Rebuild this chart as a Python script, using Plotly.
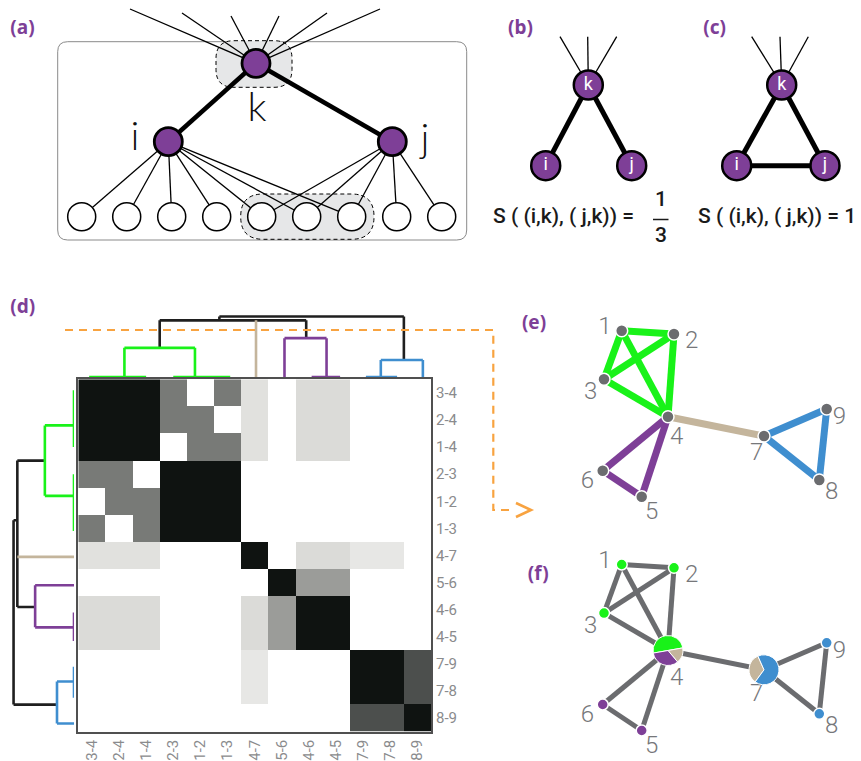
import plotly.graph_objects as go

W, H = 861, 761
FONT = "Roboto"
LABEL_FONT = "Noto Sans"

PURPLE = "#7e3f97"
GREEN = "#19f219"
BLUE = "#3f8ecf"
TAN = "#c4b59c"
DARK = "#1f1f1f"
ORANGE = "#f8a340"
NODE_GRAY = "#6b6c6f"
LABEL_GRAY = "#76777a"
TICK_GRAY = "#8a8b8d"
SHADE = "#e6e7e8"
COLORS = {"green": GREEN, "tan": TAN, "purple": PURPLE, "blue": BLUE, "black": DARK}

# ---------------------------------------------------------------- (d)
# link similarity matrix; rows and columns follow the dendrogram leaf order
link_labels = ["3-4", "2-4", "1-4", "2-3", "1-2", "1-3", "4-7",
               "5-6", "4-6", "4-5", "7-9", "7-8", "8-9"]
link_similarity = [
    [1,   1,   1,   4/7, 0,   4/7, 1/7, 0,   1/6, 1/6, 0,   0,   0],
    [1,   1,   1,   4/7, 4/7, 0,   1/7, 0,   1/6, 1/6, 0,   0,   0],
    [1,   1,   1,   0,   4/7, 4/7, 1/7, 0,   1/6, 1/6, 0,   0,   0],
    [4/7, 4/7, 0,   1,   1,   1,   0,   0,   0,   0,   0,   0,   0],
    [0,   4/7, 4/7, 1,   1,   1,   0,   0,   0,   0,   0,   0,   0],
    [4/7, 0,   4/7, 1,   1,   1,   0,   0,   0,   0,   0,   0,   0],
    [1/7, 1/7, 1/7, 0,   0,   0,   1,   0,   1/6, 1/6, 1/9, 1/9, 0],
    [0,   0,   0,   0,   0,   0,   0,   1,   3/7, 3/7, 0,   0,   0],
    [1/6, 1/6, 1/6, 0,   0,   0,   1/6, 3/7, 1,   1,   0,   0,   0],
    [1/6, 1/6, 1/6, 0,   0,   0,   1/6, 3/7, 1,   1,   0,   0,   0],
    [0,   0,   0,   0,   0,   0,   1/9, 0,   0,   0,   1,   1,   3/4],
    [0,   0,   0,   0,   0,   0,   1/9, 0,   0,   0,   1,   1,   3/4],
    [0,   0,   0,   0,   0,   0,   0,   0,   0,   0,   3/4, 3/4, 1],
]

# dendrogram: link groups that are identical (joined at distance 0)
zero_names = ["A", "B", "P2", "BL2"]
zero_span = [(-0.1, 2.0), (3.0, 5.1), (8.1, 9.15), (10.1, 11.25)]
zero_pos = [1.2, 3.8, 8.65, 10.65]
zero_color = ["green", "green", "purple", "blue"]
# single links that only join at a later merge
single_names = ["L6", "L7", "L12"]
single_pos = [6.05, 7.1, 12.2]
single_color = ["tan", "purple", "blue"]
# merges: children, distance = 1 - similarity, node position, colour
merge_names = ["G", "P", "BL", "K", "R"]
merge_children = [["A", "B"], ["L7", "P2"], ["BL2", "L12"], ["G", "L6", "P"], ["K", "BL"]]
merge_distance = [1 - 4/7, 1 - 3/7, 1 - 3/4, 1 - 1/6, 1 - 1/9]
merge_pos = [2.5, 7.9, 11.5, 4.7, None]
merge_color = ["green", "purple", "blue", "black", "black"]

# ---------------------------------------------------------------- (e)/(f)
node_ids = [1, 2, 3, 4, 5, 6, 7, 8, 9]
node_x = [-46.3, 6.0, -64.0, 0.0, -26.3, -65.3, 96.0, 151.3, 158.7]
node_y = [-86.0, -82.7, -37.4, 0.0, 80.0, 54.0, 19.3, 63.3, -7.7]
edge_src = [1, 1, 1, 2, 2, 3, 4, 4, 4, 5, 7, 7, 8]
edge_dst = [2, 3, 4, 3, 4, 4, 7, 5, 6, 6, 8, 9, 9]
edge_community = ["green", "green", "green", "green", "green", "green", "tan",
                  "purple", "purple", "purple", "blue", "blue", "blue"]
label_dx = [-16.7, 17.7, -13.3, 8.7, 10.0, -15.4, -7.3, 12.4, 12.6]
label_dy = [-2.4, 7.7, 14.0, 21.6, 16.6, 11.0, 18.0, 13.3, 9.3]
pie_rotation = {4: -100, 7: -144}

# ---------------------------------------------------------------- (a)
a_k = (256.0, 63.3)
a_i = (168.3, 141.7)
a_j = (392.3, 141.7)
a_bottom_x = [81.7, 126.7, 171.7, 216.7, 261.7, 306.7, 351.7, 396.7, 441.7]
a_bottom_y = 216.7
a_i_neighbours = [0, 1, 2, 3, 4, 5, 6]
a_j_neighbours = [4, 5, 6, 7, 8]
a_stub_x = [130, 182, 231, 279, 327, 380]
a_stub_y = [9, 13, 16, 16, 13, 9]

# ---------------------------------------------------------------- (b)/(c)
b_nodes = {"k": (588.3, 85.0), "i": (545.7, 165.7), "j": (631.7, 165.7)}
b_stub_x = [560.0, 587.7, 616.7]
c_nodes = {"k": (781.7, 85.0), "i": (736.7, 165.7), "j": (825.0, 165.7)}
c_stub_x = [751.7, 780.0, 808.3]
stub_y = 36.7

fig = go.Figure()


def canvas_lines(segs, color, width, dash=None):
    xs, ys = [], []
    for (x0, y0), (x1, y1) in segs:
        xs += [x0, x1, None]
        ys += [y0, y1, None]
    fig.add_trace(go.Scatter(x=xs, y=ys, mode="lines", xaxis="x", yaxis="y",
                             line=dict(color=color, width=width, dash=dash),
                             hoverinfo="skip", showlegend=False))


def canvas_text(x, y, text, size, color, family=FONT, weight=None, pos="middle center"):
    fig.add_trace(go.Scatter(x=[x], y=[y], text=[text], mode="text", xaxis="x", yaxis="y",
                             textposition=pos,
                             textfont=dict(family=family, size=size, color=color, weight=weight),
                             hoverinfo="skip", showlegend=False))


def canvas_nodes(pts, size, fill, line_w):
    fig.add_trace(go.Scatter(x=[p[0] for p in pts], y=[p[1] for p in pts], mode="markers",
                             xaxis="x", yaxis="y",
                             marker=dict(size=size, color=fill, line=dict(color="black", width=line_w)),
                             hoverinfo="skip", showlegend=False))


# ---- panel (a)
canvas_lines([(a_k, (x, y)) for x, y in zip(a_stub_x, a_stub_y)], "black", 1.3)
canvas_lines([(a_i, (a_bottom_x[n], a_bottom_y)) for n in a_i_neighbours], "black", 1.3)
canvas_lines([(a_j, (a_bottom_x[n], a_bottom_y)) for n in a_j_neighbours], "black", 1.3)
canvas_lines([(a_k, a_i), (a_k, a_j)], "black", 4.5)
canvas_nodes([a_k, a_i, a_j], 28, PURPLE, 2.8)
canvas_nodes([(x, a_bottom_y) for x in a_bottom_x], 28, "white", 1.5)
canvas_text(257, 111, "k", 40, "#111111", family="Lato", weight=300)
canvas_text(135, 139.5, "i", 40, "#111111", family="Lato", weight=300)
canvas_text(425, 141.5, "j", 40, "#111111", family="Lato", weight=300)

# ---- panels (b) and (c)
for nodes, stubs, closed in [(b_nodes, b_stub_x, False), (c_nodes, c_stub_x, True)]:
    k, i, j = nodes["k"], nodes["i"], nodes["j"]
    canvas_lines([(k, (sx, stub_y)) for sx in stubs], "black", 1.3)
    thick = [(k, i), (k, j)] + ([(i, j)] if closed else [])
    canvas_lines(thick, "black", 5)
    canvas_nodes([k, i, j], 29, PURPLE, 2.5)
    for name, (x, y) in nodes.items():
        canvas_text(x, y, name, 18, "white", weight=400)

canvas_text(493, 218, "S ( (i,k), ( j,k)) =", 21, "#1a1a1a", weight=500, pos="middle right")
canvas_text(661, 201, "1", 21, "#1a1a1a", weight=500)
canvas_lines([((653, 219.5), (668.5, 219.5))], "#1a1a1a", 1.5)
canvas_text(661, 237, "3", 21, "#1a1a1a", weight=500)
canvas_text(698, 218, "S ( (i,k), ( j,k)) = 1", 21, "#1a1a1a", weight=500, pos="middle right")

# ---- panel labels
for lab, x, y in [("(a)", 22.5, 29), ("(b)", 520.5, 29), ("(c)", 714.7, 29),
                  ("(d)", 22.7, 308), ("(e)", 534, 324), ("(f)", 538.3, 575)]:
    canvas_text(x, y, lab, 19, PURPLE, family=LABEL_FONT, weight=700)

# ---- heatmap (d)
HM_L, HM_R, HM_T, HM_B = 78.3, 431.0, 379.3, 731.7
n_links = len(link_labels)
fig.add_trace(go.Heatmap(z=link_similarity, x=list(range(n_links)), y=list(range(n_links)),
                         colorscale=[[0, "#ffffff"], [0.15, "#dfdfdc"], [1, "#0f1311"]],
                         zmin=0, zmax=1,
                         showscale=False, xaxis="x2", yaxis="y2", hoverinfo="skip"))

# ---- dendrograms
info = {}
segments = []
for name, (a, b), p, c in zip(zero_names, zero_span, zero_pos, zero_color):
    info[name] = (p, 0.0, None)
    segments.append((a, 0.0, b, 0.0, c))
for name, p, c in zip(single_names, single_pos, single_color):
    info[name] = (p, 0.0, c)
for name, children, d, p, c in zip(merge_names, merge_children, merge_distance, merge_pos, merge_color):
    ps = [info[ch][0] for ch in children]
    segments.append((min(ps), d, max(ps), d, c))
    for ch in children:
        cp, cd, leaf_c = info[ch]
        segments.append((cp, cd, cp, d, leaf_c or c))
    info[name] = (p, d, None)

for cname in ["black", "tan", "green", "purple", "blue"]:
    px_, dd = [], []
    for p0, d0, p1, d1, c in segments:
        if c != cname:
            continue
        px_ += [p0, p1, None]
        dd += [d0, d1, None]
    style = dict(color=COLORS[cname], width=2.6)
    fig.add_trace(go.Scatter(x=px_, y=dd, mode="lines", xaxis="x2", yaxis="y3",
                             line=style, hoverinfo="skip", showlegend=False))
    fig.add_trace(go.Scatter(x=dd, y=px_, mode="lines", xaxis="x3", yaxis="y2",
                             line=style, hoverinfo="skip", showlegend=False))

# ---- networks (e) and (f)
E_ORIGIN = (668.0, 416.7)
F_ORIGIN = (668.0, 650.5)
E_BOX = (560.0, 300.0, 861.0, 530.0)
F_BOX = (560.0, 540.0, 861.0, 761.0)
idx = {n: k for k, n in enumerate(node_ids)}

for axn, color_mode, width in [("4", "community", 7), ("5", "gray", 5)]:
    groups = {}
    for s, t, c in zip(edge_src, edge_dst, edge_community):
        key = c if color_mode == "community" else "gray"
        groups.setdefault(key, ([], []))
        groups[key][0].extend([node_x[idx[s]], node_x[idx[t]], None])
        groups[key][1].extend([node_y[idx[s]], node_y[idx[t]], None])
    for key, (xs, ys) in groups.items():
        col = COLORS.get(key, NODE_GRAY)
        fig.add_trace(go.Scatter(x=xs, y=ys, mode="lines", xaxis="x" + axn, yaxis="y" + axn,
                                 line=dict(color=col, width=width), hoverinfo="skip", showlegend=False))

# community membership of each node, from its incident links
node_comm = {n: {} for n in node_ids}
for s, t, c in zip(edge_src, edge_dst, edge_community):
    for n in (s, t):
        node_comm[n][c] = node_comm[n].get(c, 0) + 1

# (e) nodes in gray
fig.add_trace(go.Scatter(x=node_x, y=node_y, mode="markers", xaxis="x4", yaxis="y4",
                         marker=dict(size=12, color=NODE_GRAY, line=dict(color="white", width=1.5)),
                         hoverinfo="skip", showlegend=False))
fig.add_trace(go.Scatter(x=[x + dx for x, dx in zip(node_x, label_dx)],
                         y=[y + dy for y, dy in zip(node_y, label_dy)],
                         text=[str(n) for n in node_ids], mode="text", xaxis="x4", yaxis="y4",
                         textfont=dict(family=FONT, size=24, color=LABEL_GRAY, weight=300),
                         hoverinfo="skip", showlegend=False))

# (f) nodes coloured by community; shared nodes as pies
single = [n for n in node_ids if len(node_comm[n]) == 1]
fig.add_trace(go.Scatter(x=[node_x[idx[n]] for n in single], y=[node_y[idx[n]] for n in single],
                         mode="markers", xaxis="x5", yaxis="y5",
                         marker=dict(size=11, color=[COLORS[list(node_comm[n])[0]] for n in single],
                                     line=dict(color="white", width=1.5)),
                         hoverinfo="skip", showlegend=False))
f_dy = [dy + (7 if len(node_comm[n]) > 1 else 0) for n, dy in zip(node_ids, label_dy)]
fig.add_trace(go.Scatter(x=[x + dx for x, dx in zip(node_x, label_dx)],
                         y=[y + dy for y, dy in zip(node_y, f_dy)],
                         text=[str(n) for n in node_ids], mode="text", xaxis="x5", yaxis="y5",
                         textfont=dict(family=FONT, size=24, color=LABEL_GRAY, weight=300),
                         hoverinfo="skip", showlegend=False))
PIE_R = 15.0
for n in node_ids:
    if len(node_comm[n]) < 2:
        continue
    cx = F_ORIGIN[0] + node_x[idx[n]]
    cy = F_ORIGIN[1] + node_y[idx[n]]
    labs = list(node_comm[n])
    fig.add_trace(go.Pie(values=[node_comm[n][c] for c in labs], labels=labs,
                         marker=dict(colors=[COLORS[c] for c in labs], line=dict(color="white", width=1)),
                         domain=dict(x=[(cx - PIE_R) / W, (cx + PIE_R) / W],
                                     y=[1 - (cy + PIE_R) / H, 1 - (cy - PIE_R) / H]),
                         sort=False, direction="clockwise", rotation=pie_rotation[n],
                         textinfo="none", hoverinfo="skip", showlegend=False))


def rounded(x0, y0, x1, y1, r):
    return (f"M {x0 + r},{y0} L {x1 - r},{y0} Q {x1},{y0} {x1},{y0 + r} "
            f"L {x1},{y1 - r} Q {x1},{y1} {x1 - r},{y1} L {x0 + r},{y1} "
            f"Q {x0},{y1} {x0},{y1 - r} L {x0},{y0 + r} Q {x0},{y0} {x0 + r},{y0} Z")


shapes = [
    dict(type="path", path=rounded(57.7, 41.7, 466.7, 240.0, 10), xref="x", yref="y",
         line=dict(color="#8a8a8a", width=1), layer="below"),
    dict(type="path", path=rounded(216.0, 40.7, 292.0, 87.3, 18), xref="x", yref="y",
         fillcolor=SHADE, line=dict(color="black", width=1, dash="4px,3px"), layer="below"),
    dict(type="path", path=rounded(240.7, 194.0, 374.0, 239.3, 22.6), xref="x", yref="y",
         fillcolor=SHADE, line=dict(color="black", width=1, dash="4px,3px"), layer="below"),
    dict(type="path", path="M 65,330 L 493.3,330 L 493.3,510 L 510,510", xref="x", yref="y",
         line=dict(color=ORANGE, width=2.2, dash="8px,6px"), layer="above"),
    dict(type="path", path="M 516,503 L 531,510 L 516,517", xref="x", yref="y",
         line=dict(color=ORANGE, width=2.6), layer="above"),
]


def hidden(**kw):
    d = dict(visible=False, showgrid=False, zeroline=False, fixedrange=True)
    d.update(kw)
    return d


tickfont = dict(family=FONT, size=15, color=TICK_GRAY)
fig.update_layout(
    width=W, height=H, margin=dict(l=0, r=0, t=0, b=0),
    paper_bgcolor="white", plot_bgcolor="rgba(0,0,0,0)", showlegend=False,
    shapes=shapes,
    xaxis=hidden(domain=[0, 1], range=[0, W], anchor="y"),
    yaxis=hidden(domain=[0, 1], range=[H, 0], anchor="x"),
    xaxis2=dict(domain=[HM_L / W, HM_R / W], range=[-0.5, n_links - 0.5], anchor="y2",
                tickvals=list(range(n_links)), ticktext=link_labels, tickangle=-90,
                showgrid=False, zeroline=False, showline=True, mirror=True,
                linecolor="#505050", linewidth=2, ticks="", tickfont=tickfont, fixedrange=True),
    yaxis2=dict(domain=[1 - HM_B / H, 1 - HM_T / H], range=[n_links - 0.5, -0.5], anchor="x2",
                side="right", tickvals=list(range(n_links)), ticktext=link_labels,
                showgrid=False, zeroline=False, showline=True, mirror=True,
                linecolor="#505050", linewidth=2, ticks="", tickfont=tickfont, fixedrange=True),
    yaxis3=hidden(domain=[1 - 377.0 / H, 1 - 309.0 / H], range=[0, 1], anchor="x2"),
    xaxis3=hidden(domain=[6.0 / W, 74.0 / W], range=[1, 0], anchor="y2"),
    xaxis4=hidden(domain=[E_BOX[0] / W, E_BOX[2] / W],
                  range=[E_BOX[0] - E_ORIGIN[0], E_BOX[2] - E_ORIGIN[0]], anchor="y4"),
    yaxis4=hidden(domain=[1 - E_BOX[3] / H, 1 - E_BOX[1] / H],
                  range=[E_BOX[3] - E_ORIGIN[1], E_BOX[1] - E_ORIGIN[1]], anchor="x4"),
    xaxis5=hidden(domain=[F_BOX[0] / W, F_BOX[2] / W],
                  range=[F_BOX[0] - F_ORIGIN[0], F_BOX[2] - F_ORIGIN[0]], anchor="y5"),
    yaxis5=hidden(domain=[1 - F_BOX[3] / H, 1 - F_BOX[1] / H],
                  range=[F_BOX[3] - F_ORIGIN[1], F_BOX[1] - F_ORIGIN[1]], anchor="x5"),
)

fig.write_html("out.html")
